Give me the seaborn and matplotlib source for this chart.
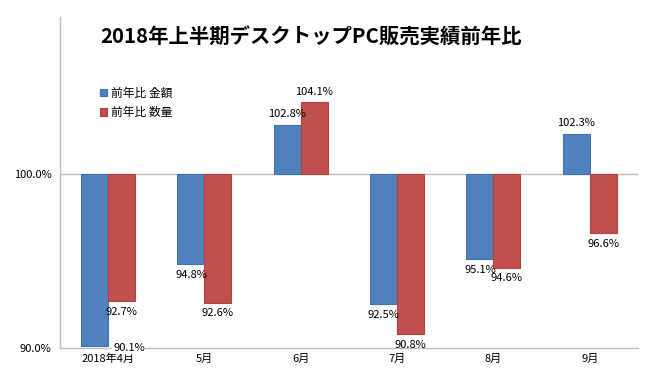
import matplotlib
matplotlib.use("Agg")
import matplotlib.pyplot as plt
import matplotlib.ticker as mticker
import seaborn as sns
import pandas as pd

# chart data
months = ['2018年4月', '5月', '6月', '7月', '8月', '9月']
kingaku = [90.1, 94.8, 102.8, 92.5, 95.1, 102.3]
suryo = [92.7, 92.6, 104.1, 90.8, 94.6, 96.6]
series = ['前年比 金額', '前年比 数量']
title = '2018年上半期デスクトップPC販売実績前年比'

colors = ['#4F81BD', '#C0504D']
edges = ['#4372AE', '#B5403D']
base = 100.0

sns.set_theme(style='white')
plt.rcParams['font.family'] = ['Noto Sans CJK JP', 'DejaVu Sans']
plt.rcParams['text.color'] = 'black'

df = pd.DataFrame({'month': months * 2,
                   'series': [series[0]] * len(months) + [series[1]] * len(months),
                   'value': kingaku + suryo})
# bars hang from the 100% line
df['diff'] = df['value'] - base

fig = plt.figure(figsize=(6.5, 3.85), dpi=100)
ax = fig.add_axes([0.0923, 0.0961, 0.889, 0.8597])

sns.barplot(data=df, x='month', y='diff', hue='series', order=months,
            hue_order=series, palette=colors, saturation=1, width=0.56,
            gap=0, legend=False, ax=ax)

# edges + value labels
for cont, vals, ec in zip(ax.containers, [kingaku, suryo], edges):
    for bar, v in zip(cont, vals):
        bar.set_edgecolor(ec)
        bar.set_linewidth(0.8)
        xc = bar.get_x() + bar.get_width() / 2
        d = v - base
        if d < -9.5:
            # no room below, Excel pushes it onto the axis
            ax.text(xc + bar.get_width() * 1.27, -10, f'{v:.1f}%', ha='center',
                    va='center', fontsize=8, clip_on=False,
                    bbox=dict(facecolor='white', edgecolor='none', pad=0.5))
        elif d < 0:
            ax.annotate(f'{v:.1f}%', (xc, d), xytext=(0, -4), textcoords='offset points',
                        ha='center', va='top', fontsize=8)
        else:
            ax.annotate(f'{v:.1f}%', (xc, d), xytext=(0, 4), textcoords='offset points',
                        ha='center', va='bottom', fontsize=8)

ax.set_xlim(-0.5, len(months) - 0.5)
ax.set_ylim(-10, 9.0)
ax.set_yticks([-10, 0])
ax.yaxis.set_major_formatter(mticker.FuncFormatter(lambda v, p: f'{v + base:.1f}%'))
ax.set_xlabel('')
ax.set_ylabel('')
ax.tick_params(axis='both', length=0, labelsize=8, colors='black')
ax.tick_params(axis='y', pad=6)
ax.tick_params(axis='x', pad=4)

ax.axhline(0, color='#BFBFBF', lw=1, zorder=0)
for s in ['top', 'right']:
    ax.spines[s].set_visible(False)
for s in ['left', 'bottom']:
    ax.spines[s].set_color('#BFBFBF')
    ax.spines[s].set_linewidth(1)

handles = [plt.Rectangle((0, 0), 1, 1, facecolor=c, edgecolor=e, lw=0.8)
           for c, e in zip(colors, edges)]
ax.legend(handles, series, loc='upper left', bbox_to_anchor=(0.05, 0.822),
          frameon=False, fontsize=8.5, handlelength=0.6, handleheight=0.6,
          handletextpad=0.4, labelspacing=0.55)

fig.text(0.478, 0.904, title, ha='center', va='center', fontsize=14.7,
         fontweight='bold')

fig.savefig('out.png', dpi=100)
